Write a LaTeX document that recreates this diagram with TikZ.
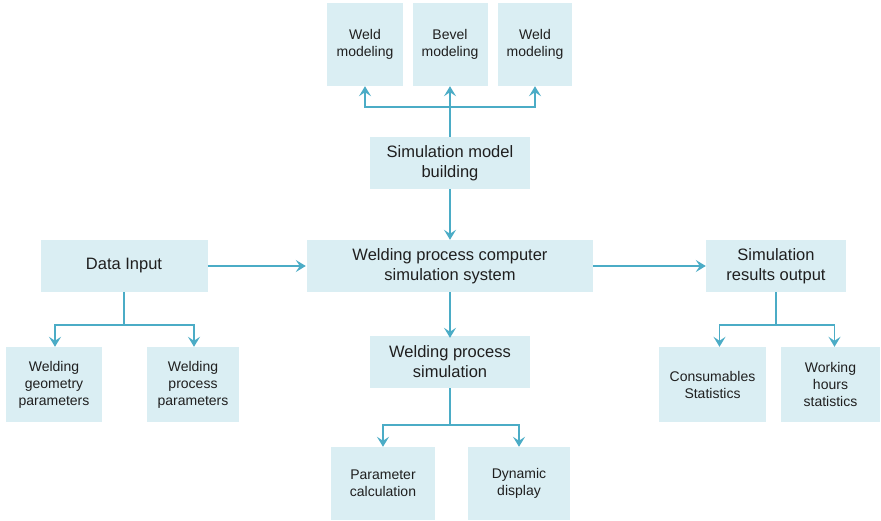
\documentclass[tikz,border=0pt]{standalone}
\usepackage{fontspec}
\setmainfont{Liberation Sans}
\usepackage{xcolor}
\usepackage{tikz}
\usetikzlibrary{arrows.meta,positioning}

\definecolor{boxfill}{HTML}{DAEEF3}
\definecolor{linkcol}{HTML}{4BACC6}
\tikzset{
  block/.style={fill=boxfill, align=center, inner sep=0pt, text=black!88,
    font=\fontsize{16.5}{20}\selectfont},
  smallblock/.style={block, font=\fontsize{14}{17}\selectfont},
  branch/.style={draw=linkcol, line width=1.8pt},
  link/.style={branch, -{Stealth[length=10pt, width=12pt, inset=4pt]}},
}

\begin{document}
\begin{tikzpicture}[x=1pt,y=-1pt]
  \useasboundingbox (0,0) rectangle (881,520);
  % modeling boxes on top
  \node[smallblock, minimum width=76pt, minimum height=83pt] (weldA) at (365,44.5) {Weld\\modeling};
  \node[smallblock, minimum width=75pt, minimum height=83pt] (bevel) at (450,44.5) {Bevel\\modeling};
  \node[smallblock, minimum width=74pt, minimum height=83pt] (weldB) at (535,44.5) {Weld\\modeling};
  \node[block, minimum width=160pt, minimum height=52pt] (smb) at (450,163) {Simulation model\\building};
  % middle row
  \node[block, minimum width=167pt, minimum height=52pt] (din) at (124,266) {Data Input};
  \node[block, minimum width=286pt, minimum height=52pt] (sys) at (450,266) {Welding process computer\\simulation system};
  \node[block, minimum width=140pt, minimum height=52pt] (res) at (776,266) {Simulation\\results output};
  % lower boxes
  \node[smallblock, minimum width=96pt, minimum height=75pt] (geo) at (54,384.5) {Welding\\geometry\\parameters};
  \node[smallblock, minimum width=92pt, minimum height=75pt] (proc) at (193,384.5) {Welding\\process\\parameters};
  \node[block, minimum width=160pt, minimum height=52pt] (wps) at (450,362) {Welding process\\simulation};
  \node[smallblock, minimum width=104pt, minimum height=73pt] (calc) at (383,483.5) {Parameter\\calculation};
  \node[smallblock, minimum width=102pt, minimum height=73pt] (dyn) at (519,483.5) {Dynamic\\display};
  \node[smallblock, minimum width=107pt, minimum height=75pt] (cons) at (712.5,384.5) {Consumables\\Statistics};
  \node[smallblock, minimum width=99pt, minimum height=75pt] (hours) at (830.5,384.5) {Working\\hours\\statistics};

  % forks
  \coordinate (topfork) at (450,107);
  \coordinate (infork) at (124,325);
  \coordinate (simfork) at (450,425);
  \coordinate (outfork) at (776,325);

  \draw[link] (smb) -- (bevel);
  \draw[link] (topfork) -| (weldA);
  \draw[link] (topfork) -| (weldB);
  \draw[link] (smb) -- (sys);
  \draw[link] (din) -- ([xshift=-1pt]sys.west);
  \draw[link] (sys) -- (res);
  \draw[link] (sys) -- ([yshift=-2pt]wps.north);

  \draw[branch] (din) -- (infork);
  \draw[link] (infork) -| ([xshift=1pt]geo.north);
  \draw[link] (infork) -| ([xshift=1pt]proc.north);

  \draw[branch] (wps) -- (simfork);
  \draw[link] (simfork) -| (calc);
  \draw[link] (simfork) -| (dyn);

  \draw[branch] (res) -- (outfork);
  \draw[link] (outfork) -| ([xshift=7pt]cons.north);
  \draw[link] (outfork) -| ([xshift=4pt]hours.north);
\end{tikzpicture}
\end{document}
